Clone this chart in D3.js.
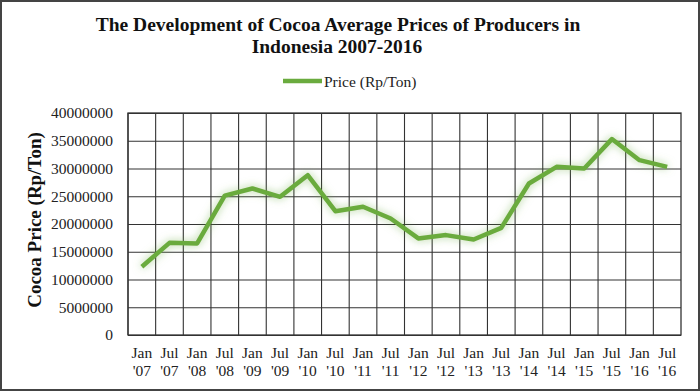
<!DOCTYPE html>
<html>
<head>
<meta charset="utf-8">
<script src="https://cdn.jsdelivr.net/npm/d3@7"></script>
<style>
  body { margin: 0; background: #fff; }
  svg { display: block; font-family: "Liberation Serif", "Times New Roman", serif; }
</style>
</head>
<body>
<div id="canvas"></div>
<script>
// chart data
var months = ['Jan', 'Jul', 'Jan', 'Jul', 'Jan', 'Jul', 'Jan', 'Jul', 'Jan', 'Jul',
              'Jan', 'Jul', 'Jan', 'Jul', 'Jan', 'Jul', 'Jan', 'Jul', 'Jan', 'Jul'];
var years = ["'07", "'07", "'08", "'08", "'09", "'09", "'10", "'10", "'11", "'11",
             "'12", "'12", "'13", "'13", "'14", "'14", "'15", "'15", "'16", "'16"];
var prices = [12300000, 16600000, 16500000, 25100000, 26400000, 24900000, 28800000, 22300000,
              23100000, 21000000, 17400000, 18000000, 17200000, 19300000, 27300000, 30300000,
              30000000, 35300000, 31500000, 30300000];
var yTicks = [0, 5000000, 10000000, 15000000, 20000000, 25000000, 30000000, 35000000, 40000000];

var width = 700, height = 391;
var margin = { left: 128, right: 19, top: 113, bottom: 56 };

var svg = d3.select('#canvas').append('svg')
    .attr('width', width)
    .attr('height', height);

// outer frame
svg.append('rect')
    .attr('x', 1).attr('y', 1)
    .attr('width', width - 2).attr('height', height - 2)
    .attr('fill', '#fff')
    .attr('stroke', '#444')
    .attr('stroke-width', 2);

var defs = svg.append('defs');
var glow = defs.append('filter').attr('id', 'glow')
    .attr('x', '-10%').attr('y', '-30%').attr('width', '120%').attr('height', '160%');
glow.append('feGaussianBlur').attr('in', 'SourceGraphic').attr('stdDeviation', 4).attr('result', 'blur');
glow.append('feColorMatrix').attr('in', 'blur').attr('type', 'matrix')
    .attr('values', '1 0 0 0 0  0 1 0 0 0  0 0 1 0 0  0 0 0 0.55 0').attr('result', 'soft');
var merge = glow.append('feMerge');
merge.append('feMergeNode').attr('in', 'soft');
merge.append('feMergeNode').attr('in', 'SourceGraphic');

var keys = d3.range(prices.length);
var x = d3.scaleBand()
    .domain(keys)
    .range([margin.left, width - margin.right]);
var y = d3.scaleLinear()
    .domain([0, 40000000])
    .range([height - margin.bottom, margin.top]);

// title
svg.append('text')
    .attr('x', 338).attr('y', 31)
    .attr('text-anchor', 'middle')
    .attr('font-size', 19.5).attr('font-weight', 'bold')
    .attr('fill', '#111')
    .text('The Development of Cocoa Average Prices of Producers in');
svg.append('text')
    .attr('x', 337).attr('y', 53)
    .attr('text-anchor', 'middle')
    .attr('font-size', 19.5).attr('font-weight', 'bold')
    .attr('fill', '#111')
    .text('Indonesia 2007-2016');

// legend
svg.append('line')
    .attr('x1', 283).attr('x2', 322)
    .attr('y1', 81).attr('y2', 81)
    .attr('stroke', '#6aab3e')
    .attr('stroke-width', 4.5);
svg.append('text')
    .attr('x', 324).attr('y', 87)
    .attr('font-size', 15.5)
    .attr('fill', '#222')
    .text('Price (Rp/Ton)');

// horizontal grid + y axis
var yAxis = d3.axisLeft(y)
    .tickValues(yTicks)
    .tickSize(-(width - margin.left - margin.right))
    .tickPadding(15)
    .tickFormat(d3.format('d'));
var gy = svg.append('g')
    .attr('transform', 'translate(' + margin.left + ',0)')
    .call(yAxis);
gy.select('.domain').remove();
gy.selectAll('.tick line').attr('stroke', '#333').attr('stroke-width', 1.1);
gy.selectAll('.tick text')
    .attr('font-family', '"Liberation Serif", serif')
    .attr('font-size', 15.5)
    .attr('fill', '#222');

// vertical grid
var xGrid = d3.axisBottom(x)
    .tickValues(d3.range(0, prices.length))
    .tickSize(-(height - margin.top - margin.bottom))
    .tickFormat('');
var gx = svg.append('g')
    .attr('transform', 'translate(' + (-x.bandwidth() / 2) + ',' + (height - margin.bottom) + ')')
    .call(xGrid);
gx.select('.domain').remove();
gx.selectAll('.tick line').attr('stroke', '#333').attr('stroke-width', 1.1);

// plot frame
svg.append('rect')
    .attr('x', margin.left).attr('y', margin.top)
    .attr('width', width - margin.left - margin.right)
    .attr('height', height - margin.top - margin.bottom)
    .attr('fill', 'none')
    .attr('stroke', '#333')
    .attr('stroke-width', 1.3);

// x labels
var xl = svg.append('g').selectAll('text')
    .data(keys)
    .enter().append('text')
    .attr('text-anchor', 'middle')
    .attr('font-size', 15.5)
    .attr('fill', '#222');
xl.append('tspan')
    .attr('x', function (d) { return x(d) + x.bandwidth() / 2; })
    .attr('y', 358)
    .text(function (d) { return months[d]; });
xl.append('tspan')
    .attr('x', function (d) { return x(d) + x.bandwidth() / 2; })
    .attr('y', 376)
    .text(function (d) { return years[d]; });

// y title
svg.append('text')
    .attr('transform', 'translate(41,' + ((margin.top + height - margin.bottom) / 2 - 4) + ') rotate(-90)')
    .attr('text-anchor', 'middle')
    .attr('font-size', 19).attr('font-weight', 'bold')
    .attr('fill', '#111')
    .text('Cocoa Price (Rp/Ton)');

// price line
var line = d3.line()
    .x(function (d, i) { return x(i) + x.bandwidth() / 2; })
    .y(function (d) { return y(d); });
svg.append('path')
    .datum(prices)
    .attr('d', line)
    .attr('fill', 'none')
    .attr('stroke', '#6aab3e')
    .attr('stroke-width', 4.5)
    .attr('stroke-linejoin', 'round')
    .attr('filter', 'url(#glow)');
</script>
</body>
</html>
